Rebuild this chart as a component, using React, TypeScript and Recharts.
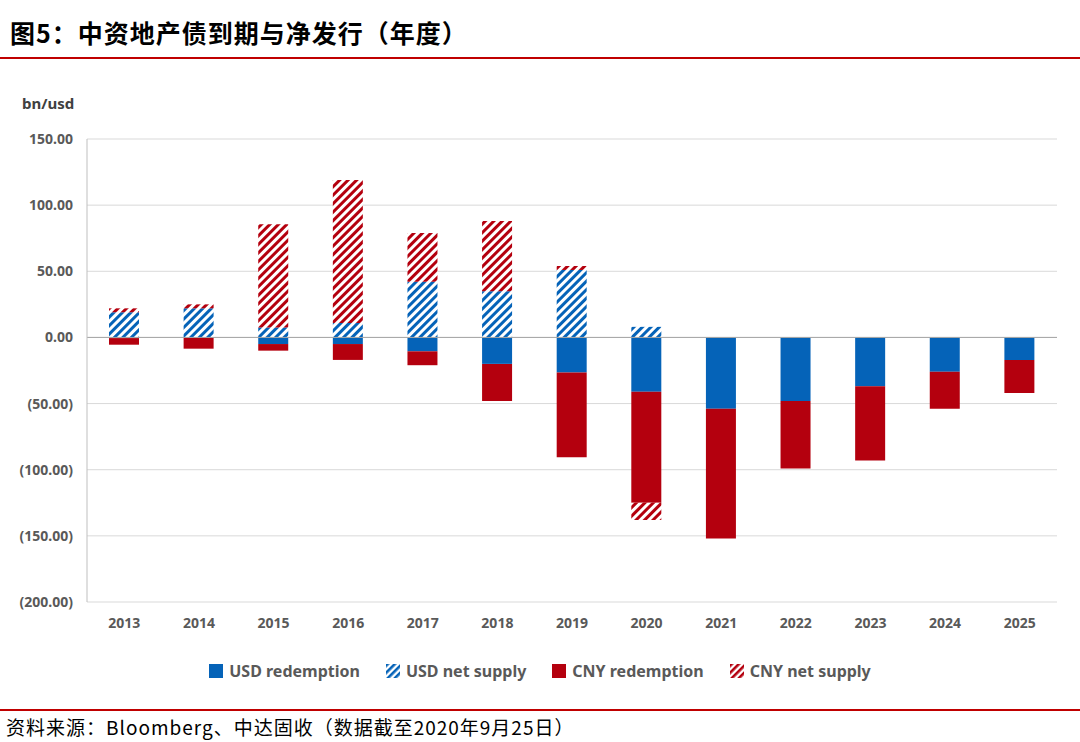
import React from "react";
import { BarChart, Bar, XAxis, YAxis, CartesianGrid, ReferenceLine } from "recharts";

const years = ["2013", "2014", "2015", "2016", "2017", "2018", "2019", "2020", "2021", "2022", "2023", "2024", "2025"];
const usdRedemption = [-0.5, 0, -5, -5, -10.5, -20, -26.5, -41, -54, -48, -37, -26, -17];
const usdNetSupply = [19, 22, 7.5, 11, 42, 35, 51, 8, 0, 0, 0, 0, 0];
const cnyRedemption = [-5, -8.5, -5, -12, -10.5, -28, -64, -84, -98, -51, -56, -28, -25];
const cnyNetSupply = [3, 3, 78, 108, 37, 53, 3, -13, 0, 0, 0, 0, 0];
const yTicks = [150, 100, 50, 0, -50, -100, -150, -200];

const data = years.map((year, i) => ({
  year,
  usdRed: usdRedemption[i],
  usdNet: usdNetSupply[i],
  cnyRed: cnyRedemption[i],
  cnyNet: cnyNetSupply[i],
}));

const BLUE = "#0563b8";
const RED = "#b4000e";

const fmt = (v: number) => (v < 0 ? `(${Math.abs(v).toFixed(2)})` : v.toFixed(2));

const tickStyle = { fontFamily: "Noto Sans", fontWeight: 700, fontSize: 14, fill: "#595959" };

function Swatch({ kind }: { kind: string }) {
  const color = kind.startsWith("usd") ? BLUE : RED;
  const hatched = kind.endsWith("Net");
  return (
    <svg width={14} height={14} style={{ marginRight: 6 }}>
      <rect width={14} height={14} fill={hatched ? `url(#sw-${kind})` : color} />
      <defs>
        <pattern id={`sw-${kind}`} width={5} height={5} patternUnits="userSpaceOnUse" patternTransform="rotate(45)">
          <rect width={5} height={5} fill="#fff" />
          <rect width={2.6} height={5} fill={color} />
        </pattern>
      </defs>
    </svg>
  );
}

const legendItems = [
  { kind: "usdRed", label: "USD redemption" },
  { kind: "usdNet", label: "USD net supply" },
  { kind: "cnyRed", label: "CNY redemption" },
  { kind: "cnyNet", label: "CNY net supply" },
];

export default function App() {
  return (
    <div style={{ position: "fixed", left: 0, top: 0, width: 1080, height: 742, background: "#fff", overflow: "hidden" }}>
      <div style={{ position: "absolute", left: 10, top: 14, fontFamily: "Noto Sans CJK SC", fontWeight: 700, fontSize: 25, color: "#000", letterSpacing: 1 }}>
        图5：中资地产债到期与净发行（年度）
      </div>
      <div style={{ position: "absolute", left: 0, top: 57, width: 1080, height: 2, background: "#c00000" }} />
      <div style={{ position: "absolute", left: 22, top: 93, ...{ fontFamily: "Noto Sans", fontWeight: 700, fontSize: 15, color: "#404040" } }}>bn/usd</div>
      <BarChart width={1080} height={742} data={data} stackOffset="sign" barSize={30}
        margin={{ top: 139, right: 23, bottom: 110, left: 0 }}>
        <defs>
          <pattern id="hatchBlue" width={6} height={6} patternUnits="userSpaceOnUse" patternTransform="rotate(45)">
            <rect width={6} height={6} fill="#fff" />
            <rect width={3} height={6} fill={BLUE} />
          </pattern>
          <pattern id="hatchRed" width={6} height={6} patternUnits="userSpaceOnUse" patternTransform="rotate(45)">
            <rect width={6} height={6} fill="#fff" />
            <rect width={3} height={6} fill={RED} />
          </pattern>
        </defs>
        <CartesianGrid vertical={false} stroke="#d9d9d9" />
        <XAxis dataKey="year" height={30} axisLine={false} tickLine={false} tick={tickStyle} tickMargin={10} />
        <YAxis width={87} domain={[-200, 150]} ticks={yTicks} tickFormatter={fmt} tick={tickStyle}
          axisLine={{ stroke: "#bfbfbf" }} tickLine={false} tickMargin={8} />
        <ReferenceLine y={0} stroke="#a6a6a6" />
        <Bar dataKey="usdRed" stackId="a" fill={BLUE} isAnimationActive={false} />
        <Bar dataKey="usdNet" stackId="a" fill="url(#hatchBlue)" isAnimationActive={false} />
        <Bar dataKey="cnyRed" stackId="a" fill={RED} isAnimationActive={false} />
        <Bar dataKey="cnyNet" stackId="a" fill="url(#hatchRed)" isAnimationActive={false} />
      </BarChart>
      <div style={{ position: "absolute", left: 0, top: 660, width: 1080, display: "flex", justifyContent: "center", gap: 26, fontFamily: "Noto Sans", fontWeight: 700, fontSize: 16, color: "#595959" }}>
        {legendItems.map((it) => (
          <div key={it.kind} style={{ display: "flex", alignItems: "center" }}>
            <Swatch kind={it.kind} />
            {it.label}
          </div>
        ))}
      </div>
      <div style={{ position: "absolute", left: 0, top: 709, width: 1080, height: 2, background: "#c00000" }} />
      <div style={{ position: "absolute", left: 6, top: 713, fontFamily: "Noto Sans CJK SC", fontSize: 19, color: "#000", letterSpacing: 1 }}>
        资料来源：Bloomberg、中达固收（数据截至2020年9月25日）
      </div>
    </div>
  );
}
